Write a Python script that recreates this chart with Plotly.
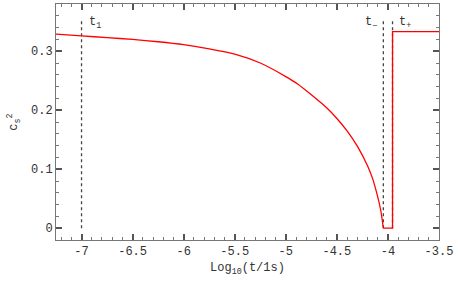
import plotly.graph_objects as go

# c_s^2 curve before t_-
curve_x = [-7.25, -7.0, -6.75, -6.5, -6.25, -6.0, -5.75, -5.5, -5.25, -5.0, -4.88, -4.75,
           -4.6, -4.5, -4.4, -4.3, -4.2, -4.15, -4.1, -4.07, -4.045]
curve_y = [0.329, 0.326, 0.323, 0.320, 0.316, 0.311, 0.304, 0.295, 0.280, 0.257, 0.244, 0.226,
           0.204, 0.186, 0.165, 0.139, 0.106, 0.084, 0.053, 0.030, 0.0]
# step part
step_x = [-4.045, -3.955, -3.955, -3.5]
step_y = [0.0, 0.0, 0.3333, 0.3333]

# marker times
t_names = ["t<sub>1</sub>", "t<sub>−</sub>", "t<sub>+</sub>"]
t_vals = [-7.0, -4.045, -3.955]
t_top = 0.352

xticks = [-7, -6.5, -6, -5.5, -5, -4.5, -4, -3.5]
xticklabels = ["-7", "-6.5", "-6", "-5.5", "-5", "-4.5", "-4", "-3.5"]
yticks = [0, 0.1, 0.2, 0.3]
yticklabels = ["0", "0.1", "0.2", "0.3"]

font_mono = "Liberation Mono, Courier New, monospace"

fig = go.Figure()
for tv in t_vals:
    fig.add_trace(go.Scatter(x=[tv, tv], y=[0, t_top], mode="lines",
                             line=dict(color="#444444", width=1.3, dash="dot"),
                             hoverinfo="skip", showlegend=False))
fig.add_trace(go.Scatter(x=curve_x, y=curve_y, mode="lines",
                         line=dict(color="#ff0000", width=1.3, shape="spline", smoothing=0.6),
                         showlegend=False))
fig.add_trace(go.Scatter(x=step_x, y=step_y, mode="lines",
                         line=dict(color="#ff0000", width=1.3), showlegend=False))

annos = [
    dict(x=-6.95, y=0.347, text=t_names[0], xanchor="left"),
    dict(x=-4.09, y=0.347, text=t_names[1], xanchor="right"),
    dict(x=-3.91, y=0.347, text=t_names[2], xanchor="left"),
]
for a in annos:
    fig.add_annotation(x=a["x"], y=a["y"], text=a["text"], xanchor=a["xanchor"],
                       yanchor="middle", showarrow=False,
                       font=dict(family=font_mono, size=12, color="#333333"))

tick_font = dict(family=font_mono, size=12, color="#333333")

fig.update_xaxes(range=[-7.25, -3.5], tickmode="array", tickvals=xticks, ticktext=xticklabels,
                 showline=True, linecolor="#777777", linewidth=1, mirror="allticks",
                 ticks="inside", ticklen=6, tickcolor="#555555", tickwidth=1.5,
                 showgrid=False, zeroline=False, tickfont=tick_font,
                 minor_ticks="inside", minor_dtick=0.1, minor_tick0=-7, minor_ticklen=3,
                 minor_tickcolor="#777777", minor_tickwidth=1.2,
                 title=dict(text="Log<sub>10</sub>(t/1s)", standoff=4, font=tick_font))
fig.update_yaxes(range=[-0.02, 0.38], tickmode="array", tickvals=yticks, ticktext=yticklabels,
                 showline=True, linecolor="#777777", linewidth=1, mirror="allticks",
                 ticks="inside", ticklen=6, tickcolor="#555555", tickwidth=1.5,
                 showgrid=False, zeroline=False, tickfont=tick_font,
                 minor_ticks="inside", minor_dtick=0.02, minor_tick0=0, minor_ticklen=3,
                 minor_tickcolor="#777777", minor_tickwidth=1.2,
                 title=dict(text="c<sub>s</sub><sup>2</sup>", standoff=10, font=tick_font))

fig.update_layout(template="none", width=458, height=283,
                  margin=dict(l=56, r=19, t=4, b=43),
                  paper_bgcolor="white", plot_bgcolor="white")
fig.write_html("out.html", config={"displayModeBar": False},
               post_script="document.body.style.margin='0';")
